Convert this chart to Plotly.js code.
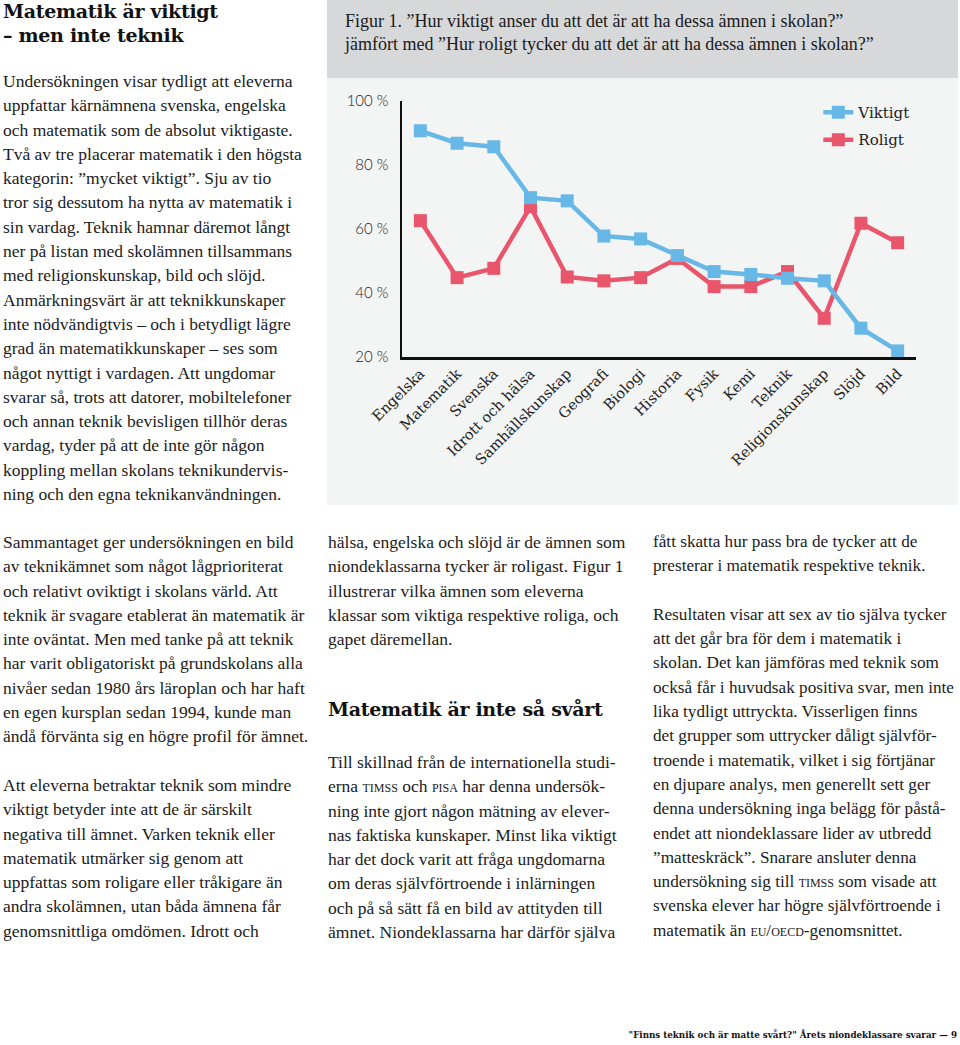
<!DOCTYPE html>
<html>
<head>
<meta charset="utf-8">
<script src="https://cdn.plot.ly/plotly-3.0.1.min.js"></script>
<style>
  html, body { margin:0; padding:0; background:#ffffff; }
  body { width:960px; height:1045px; position:relative; overflow:hidden; }
  .txt { position:absolute; font-family:"Liberation Serif", serif; font-size:17.5px; line-height:24.3px; color:#1b1b1b; white-space:nowrap; }
  .head { position:absolute; font-family:"DejaVu Serif", serif; font-weight:bold; font-size:19px; line-height:24px; color:#111; white-space:nowrap; letter-spacing:-0.3px; }
  .sc { font-variant:small-caps; }
  #foot { position:absolute; right:3px; top:1029px; font-family:"DejaVu Serif Condensed","DejaVu Serif",serif; font-weight:bold; font-size:9.7px; color:#111; white-space:nowrap; }
  #chart { position:absolute; left:327px; top:0px; width:631px; height:505px; }
</style>
</head>
<body>
<div class="head" style="left:3px;top:-1px;">Matematik är viktigt<br>– men inte teknik</div>
<div class="txt" style="left:3px;top:69px;">
Undersökningen visar tydligt att eleverna<br>
uppfattar kärnämnena svenska, engelska<br>
och matematik som de absolut viktigaste.<br>
Två av tre placerar matematik i den högsta<br>
kategorin: ”mycket viktigt”. Sju av tio<br>
tror sig dessutom ha nytta av matematik i<br>
sin vardag. Teknik hamnar däremot långt<br>
ner på listan med skolämnen tillsammans<br>
med religionskunskap, bild och slöjd.<br>
Anmärkningsvärt är att teknikkunskaper<br>
inte nödvändigtvis – och i betydligt lägre<br>
grad än matematikkunskaper – ses som<br>
något nyttigt i vardagen. Att ungdomar<br>
svarar så, trots att datorer, mobiltelefoner<br>
och annan teknik bevisligen tillhör deras<br>
vardag, tyder på att de inte gör någon<br>
koppling mellan skolans teknikundervis-<br>
ning och den egna teknikanvändningen.
</div>

<div class="txt" style="left:3px;top:530px;">
Sammantaget ger undersökningen en bild<br>
av teknikämnet som något lågprioriterat<br>
och relativt oviktigt i skolans värld. Att<br>
teknik är svagare etablerat än matematik är<br>
inte oväntat. Men med tanke på att teknik<br>
har varit obligatoriskt på grundskolans alla<br>
nivåer sedan 1980 års läroplan och har haft<br>
en egen kursplan sedan 1994, kunde man<br>
ändå förvänta sig en högre profil för ämnet.<br>
<br>
Att eleverna betraktar teknik som mindre<br>
viktigt betyder inte att de är särskilt<br>
negativa till ämnet. Varken teknik eller<br>
matematik utmärker sig genom att<br>
uppfattas som roligare eller tråkigare än<br>
andra skolämnen, utan båda ämnena får<br>
genomsnittliga omdömen. Idrott och
</div>

<div class="txt" style="left:328px;top:530px;">
hälsa, engelska och slöjd är de ämnen som<br>
niondeklassarna tycker är roligast. Figur 1<br>
illustrerar vilka ämnen som eleverna<br>
klassar som viktiga respektive roliga, och<br>
gapet däremellan.
</div>
<div class="head" style="left:328px;top:697px;">Matematik är inte så svårt</div>
<div class="txt" style="left:328px;top:750px;">
Till skillnad från de internationella studi-<br>
erna <span class="sc">timss</span> och <span class="sc">pisa</span> har denna undersök-<br>
ning inte gjort någon mätning av elever-<br>
nas faktiska kunskaper. Minst lika viktigt<br>
har det dock varit att fråga ungdomarna<br>
om deras självförtroende i inlärningen<br>
och på så sätt få en bild av attityden till<br>
ämnet. Niondeklassarna har därför själva
</div>

<div class="txt" style="left:653px;top:530px;font-size:17.2px;">
fått skatta hur pass bra de tycker att de<br>
presterar i matematik respektive teknik.<br>
<br>
Resultaten visar att sex av tio själva tycker<br>
att det går bra för dem i matematik i<br>
skolan. Det kan jämföras med teknik som<br>
också får i huvudsak positiva svar, men inte<br>
lika tydligt uttryckta. Visserligen finns<br>
det grupper som uttrycker dåligt självför-<br>
troende i matematik, vilket i sig förtjänar<br>
en djupare analys, men generellt sett ger<br>
denna undersökning inga belägg för påstå-<br>
endet att niondeklassare lider av utbredd<br>
”matteskräck”. Snarare ansluter denna<br>
undersökning sig till <span class="sc">timss</span> som visade att<br>
svenska elever har högre självförtroende i<br>
matematik än <span class="sc">eu/oecd</span>-genomsnittet.
</div>

<div id="foot">"Finns teknik och är matte svårt?" Årets niondeklassare svarar — 9</div>

<div id="chart"></div>

<script>
const subjects = ["Engelska","Matematik","Svenska","Idrott och hälsa","Samhällskunskap","Geografi","Biologi","Historia","Fysik","Kemi","Teknik","Religionskunskap","Slöjd","Bild"];
const viktigt = [90.7, 86.8, 85.7, 69.8, 68.8, 57.8, 56.9, 51.7, 46.7, 45.8, 44.6, 43.8, 29.0, 21.9];
const roligt  = [62.6, 44.8, 47.7, 67.0, 45.0, 43.8, 44.8, 50.8, 42.0, 42.0, 46.7, 32.1, 61.8, 55.7];
const yTicks = [20, 40, 60, 80, 100];
const figTitle = "Figur 1. ”Hur viktigt anser du att det är att ha dessa ämnen i skolan?”<br>jämfört med ”Hur roligt tycker du att det är att ha dessa ämnen i skolan?”";

const blue = "#67b8e7";
const red = "#e9566b";

const traces = [
  { type:"scatter", mode:"lines+markers", name:"Roligt", legendgroup:"r", legendrank:2, x:subjects, y:roligt,
    line:{color:red, width:4.5}, marker:{symbol:"square", size:13, color:red}, hoverinfo:"skip" },
  { type:"scatter", mode:"lines+markers", name:"Viktigt", legendgroup:"v", legendrank:1, x:subjects, y:viktigt,
    line:{color:blue, width:4.5}, marker:{symbol:"square", size:13, color:blue}, hoverinfo:"skip" }
];

const W = 631, H = 505, L = 75, R = 42, T = 101, B = 148;
const pw = W - L - R, ph = H - T - B;

const layout = {
  width: W, height: H,
  margin: {l:L, r:R, t:T, b:B, pad:0},
  paper_bgcolor: "#f3f4f4",
  plot_bgcolor: "rgba(0,0,0,0)",
  title: { text: figTitle, xref:"container", yref:"container", x: 18/W, xanchor:"left", y: 1 - 27/H, yanchor:"top",
           font:{family:"Liberation Serif, serif", size:18, color:"#1a1a1a"} },
  shapes: [
    { type:"rect", xref:"paper", yref:"paper", x0: -L/pw, x1: (W-L)/pw, y0: 1 + (T-78)/ph, y1: 1 + T/ph,
      fillcolor:"#d7d8d9", line:{width:0}, layer:"below" }
  ],
  xaxis: { type:"category", showline:true, linecolor:"#111", linewidth:2.5, showgrid:false, zeroline:false,
           ticks:"", tickangle:-45, tickfont:{family:"DejaVu Serif, serif", size:14.5, color:"#222"},
           range:[-0.5, subjects.length-0.5], fixedrange:true },
  yaxis: { range:[20,100], tickvals:yTicks, ticktext:yTicks.map(v => v + " %"), showline:true, linecolor:"#111", linewidth:2.5,
           showgrid:false, zeroline:false, ticks:"", ticklabelstandoff:8,
           tickfont:{family:"Lato, sans-serif", size:15, color:"#222", weight:300}, fixedrange:true },
  showlegend: true,
  legend: { x: 0.81, y: 1.02, xanchor:"left", yanchor:"top", traceorder:"grouped", tracegroupgap:5,
            bgcolor:"rgba(0,0,0,0)",
            font:{family:"DejaVu Serif, serif", size:15, color:"#222"}, itemclick:false, itemdoubleclick:false },
  hovermode:false
};

Plotly.newPlot("chart", traces, layout, {displayModeBar:false, staticPlot:true});
</script>
</body>
</html>
